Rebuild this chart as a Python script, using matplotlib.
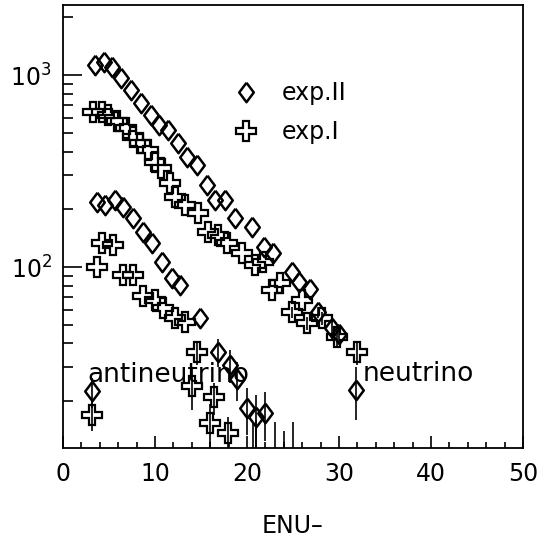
import matplotlib
matplotlib.use("Agg")
import matplotlib.pyplot as plt
from matplotlib.ticker import MultipleLocator, LogLocator, NullFormatter
from matplotlib.lines import Line2D

# neutrino, exp.II (diamonds)
nu2_x = [3.5, 4.5, 5.3, 6.3, 7.4, 8.5, 9.6, 10.4, 11.4, 12.5, 13.5, 14.6, 15.7, 16.5,
         17.6, 18.7, 20.5, 21.9, 22.8, 24.9, 25.6, 26.8, 27.7, 29.2, 30.0, 31.8]
nu2_y = [1130, 1170, 1100, 965, 835, 715, 620, 550, 520, 445, 375, 340, 268, 223,
         223, 180, 162, 127, 118, 94, 84, 77, 58, 48, 45, 23]
nu2_e = [0, 0, 0, 0, 0, 0, 0, 0, 0, 0, 0, 0, 0, 0,
         0, 0, 0, 0, 0, 0, 0, 0, 4, 5, 5, 7]

# neutrino, exp.I (crosses)
nu1_x = [3.3, 4.2, 4.9, 5.9, 6.8, 7.6, 8.4, 9.2, 10.0, 10.7, 11.6, 12.2, 13.3, 14.7,
         15.8, 16.8, 17.8, 19.5, 20.9, 21.7, 22.7, 23.6, 24.9, 26.0, 26.5, 28.2, 29.8, 32.0]
nu1_y = [640, 640, 620, 580, 530, 475, 445, 405, 352, 328, 274, 232, 210, 191,
         152, 147, 133, 118, 102, 106, 76, 83, 58, 67, 51, 54, 43, 36]
nu1_e = [0, 0, 0, 0, 0, 0, 0, 0, 0, 0, 0, 0, 0, 0,
         0, 0, 0, 0, 0, 0, 0, 0, 4, 0, 4, 4, 5, 5]

# antineutrino, exp.II (diamonds)
anu2_x = [3.2, 3.7, 4.6, 5.7, 6.5, 7.6, 8.7, 9.7, 10.8, 11.8, 12.7, 14.9,
          16.8, 18.2, 18.9, 20.0, 21.0, 22.0]
anu2_y = [22.5, 218, 210, 223, 205, 180, 152, 133, 106, 88, 81, 54,
          36, 31, 26, 18.4, 16.6, 17.4]
anu2_e = [4, 0, 0, 0, 0, 0, 0, 0, 0, 0, 0, 0,
          6, 6, 6, 5, 5, 5]

# antineutrino, exp.I (crosses)
anu1_x = [3.2, 3.7, 4.2, 5.4, 6.5, 7.6, 8.7, 10.0, 10.9, 12.2, 13.3, 14.0, 14.6,
          16.4, 16.0, 17.9, 20.6, 21.0, 23.0, 24.0, 25.0]
anu1_y = [17, 100, 133, 130, 91, 91, 71, 67, 61, 54, 52, 24, 36,
          21, 15.4, 13.6, 9, 9, 9, 9, 9]
anu1_e = [3, 0, 0, 0, 0, 0, 0, 0, 0, 0, 0, 6, 5,
          4, 4, 3, 6.5, 7, 6.5, 5, 6.5]

x_ticks = [0, 10, 20, 30, 40, 50]
legend_labels = ["exp.II", "exp.I"]
region_labels = ["antineutrino", "neutrino"]
x_label = "ENU\u2013"

diamond = [(0, 1), (0.75, 0), (0, -1), (-0.75, 0), (0, 1)]

fig = plt.figure(figsize=(5.45, 5.46), dpi=100)
ax = fig.add_axes([0.1156, 0.1795, 0.844, 0.8113])
ax.set_yscale("log")

dkw = dict(marker=diamond, ms=14, mew=1.8, mfc="none", mec="black", ls="none",
           ecolor="black", elinewidth=1.2, capsize=0)
ckw = dict(marker="P", ms=14, mew=1.6, mfc="none", mec="black", ls="none",
           ecolor="black", elinewidth=1.2, capsize=0)

ax.errorbar(nu2_x, nu2_y, yerr=nu2_e, **dkw)
ax.errorbar(nu1_x, nu1_y, yerr=nu1_e, **ckw)
ax.errorbar(anu2_x, anu2_y, yerr=anu2_e, **dkw)
ax.errorbar(anu1_x, anu1_y, yerr=anu1_e, **ckw)

ax.set_xlim(0, 50)
ax.set_ylim(11.4, 2320)

ax.xaxis.set_minor_locator(MultipleLocator(2))
ax.set_xticks(x_ticks)
ax.yaxis.set_major_locator(LogLocator(base=10, numticks=10))
ax.yaxis.set_minor_locator(LogLocator(base=10, subs=range(2, 10), numticks=20))
ax.yaxis.set_minor_formatter(NullFormatter())

ax.tick_params(axis="both", which="both", direction="in", top=False, right=False,
               labelsize=17, width=1.2)
ax.tick_params(axis="y", which="major", length=14, pad=8)
ax.tick_params(axis="y", which="minor", length=7)
ax.tick_params(axis="x", which="major", length=9, pad=10)
ax.tick_params(axis="x", which="minor", length=4)
for s in ax.spines.values():
    s.set_linewidth(1.3)

ax.set_xlabel(x_label, fontsize=17, labelpad=20)

ax.text(2.7, 27.4, region_labels[0], fontsize=19, va="center", ha="left")
ax.text(32.6, 27.8, region_labels[1], fontsize=19, va="center", ha="left")

handles = [Line2D([], [], marker=diamond, ms=14, mew=1.8, mfc="none", mec="black", ls="none"),
           Line2D([], [], marker="P", ms=14, mew=1.6, mfc="none", mec="black", ls="none")]
ax.legend(handles, legend_labels, loc="upper left", bbox_to_anchor=(0.327, 0.85),
          frameon=False, fontsize=17, handletextpad=0.5, labelspacing=0.65,
          borderaxespad=0)

fig.savefig("out.png", dpi=100)
